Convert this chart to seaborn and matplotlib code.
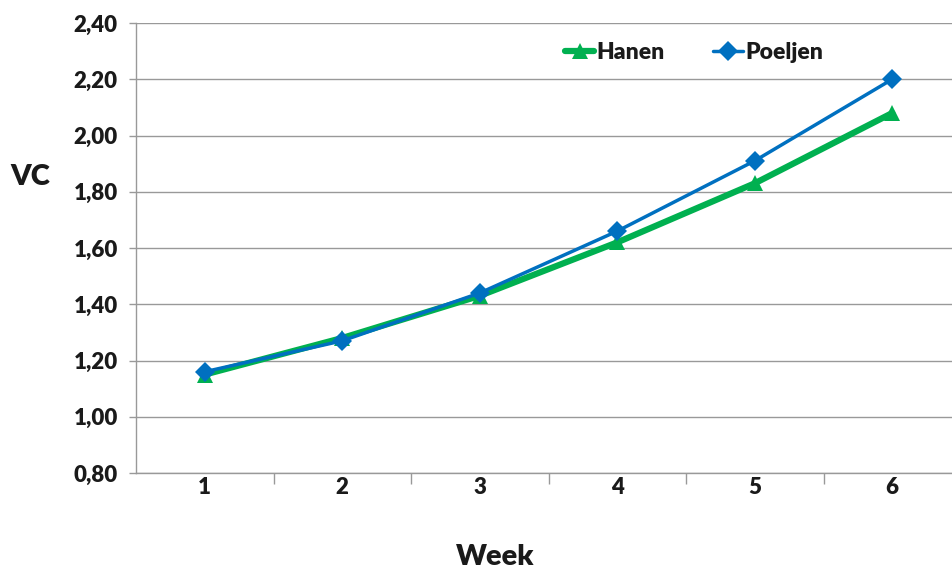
import pandas as pd
import matplotlib
matplotlib.use("Agg")
import matplotlib.pyplot as plt
import seaborn as sns
from matplotlib.ticker import FuncFormatter

weeks = [1, 2, 3, 4, 5, 6]
hanen = [1.15, 1.28, 1.43, 1.62, 1.83, 2.08]
poeljen = [1.16, 1.27, 1.44, 1.66, 1.91, 2.20]
y_ticks = [0.80, 1.00, 1.20, 1.40, 1.60, 1.80, 2.00, 2.20, 2.40]

df = pd.DataFrame({
    "Week": weeks * 2,
    "VC": hanen + poeljen,
    "serie": ["Hanen"] * 6 + ["Poeljen"] * 6,
})

sns.set_style("white")
plt.rcParams["font.family"] = ["Lato", "DejaVu Sans"]
plt.rcParams["font.weight"] = "bold"

fig = plt.figure(figsize=[9.53, 5.73], dpi=100)
ax = fig.add_axes([136 / 953, 1 - 473 / 573, 825 / 953, 450 / 573])

green = "#00B050"
blue = "#0070C0"

sns.lineplot(data=df[df.serie == "Hanen"], x="Week", y="VC", ax=ax, color=green,
             linewidth=4.5, marker="^", markersize=11, markeredgewidth=0, label="Hanen")
sns.lineplot(data=df[df.serie == "Poeljen"], x="Week", y="VC", ax=ax, color=blue,
             linewidth=2.5, marker="D", markersize=10, markeredgewidth=0, label="Poeljen")

ax.set_xlim(0.5, 6.5)
ax.set_ylim(0.80, 2.40)
ax.set_yticks(y_ticks)
ax.yaxis.set_major_formatter(FuncFormatter(lambda v, p: f"{v:.2f}".replace(".", ",")))
ax.set_xticks(weeks)
ax.set_xticks([1.5, 2.5, 3.5, 4.5, 5.5], minor=True)
ax.tick_params(axis="x", which="major", length=0, pad=3, labelsize=16, colors="#1a1a1a")
ax.tick_params(axis="x", which="minor", length=8, color="#999999", width=1, direction="out")
ax.tick_params(axis="y", length=5, color="#999999", width=1, pad=8, labelsize=16, colors="#1a1a1a")
ax.xaxis.set_ticks_position("bottom")
ax.yaxis.set_ticks_position("left")
for lbl in ax.get_xticklabels() + ax.get_yticklabels():
    lbl.set_fontweight("heavy")

ax.grid(axis="y", color="#999999", linewidth=1)
ax.grid(axis="x", visible=False)
for side in ["top", "right"]:
    ax.spines[side].set_visible(False)
for side in ["left", "bottom"]:
    ax.spines[side].set_color("#999999")
    ax.spines[side].set_linewidth(1)

ax.set_xlabel("")
ax.set_ylabel("")
fig.text(30 / 953, 1 - 177 / 573, "VC", fontsize=21, fontweight="heavy", ha="center", va="center", color="#1a1a1a")
fig.text(495 / 953, 1 - 557 / 573, "Week", fontsize=21, fontweight="heavy", ha="center", va="center", color="#1a1a1a")

leg = ax.legend(loc="upper left", bbox_to_anchor=(544 / 953, 1 - 21 / 573), bbox_transform=fig.transFigure,
                ncol=2, frameon=False, handlelength=1.3, handletextpad=0.1,
                columnspacing=2.1, prop={"weight": "heavy", "size": 16.5})
for t in leg.get_texts():
    t.set_color("#1a1a1a")

fig.savefig("out.png", dpi=100)
